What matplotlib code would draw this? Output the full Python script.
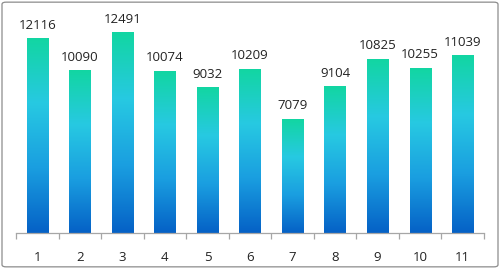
import matplotlib.pyplot as plt
import numpy as np
from matplotlib.colors import LinearSegmentedColormap
from matplotlib.patches import FancyBboxPatch

categories = ['1', '2', '3', '4', '5', '6', '7', '8', '9', '10', '11']
values = [12116, 10090, 12491, 10074, 9032, 10209, 7079, 9104, 10825, 10255, 11039]

plt.rcParams['font.family'] = ['Open Sans', 'DejaVu Sans']

# gradient bottom -> top: blue, cyan, green
cmap = LinearSegmentedColormap.from_list('bar', ['#0561c6', '#1a9ee0', '#27c9e2', '#12d6a2'])
grad = np.linspace(0, 1, 256).reshape(-1, 1)

fig = plt.figure(figsize=(5, 2.69), dpi=100)
ax = fig.add_axes([0.032, 0.134, 0.936, 0.836])

x = np.arange(len(values))
width = 0.5
for xi, v in zip(x, values):
    ax.imshow(grad, cmap=cmap, origin='lower', aspect='auto',
              extent=[xi - width / 2, xi + width / 2, 0, v], zorder=2)
    ax.text(xi, v + 420, f'{v}', ha='center', va='bottom', fontsize=9.5, color='#222222')

ax.set_xlim(-0.5, len(values) - 0.5)
ax.set_ylim(0, 14000)
for s in ['top', 'right', 'left']:
    ax.spines[s].set_visible(False)
ax.spines['bottom'].set_color('#a6a6a6')
ax.spines['bottom'].set_linewidth(0.9)
ax.set_yticks([])
ax.set_xticks(np.arange(-0.5, len(values)), minor=False)
ax.set_xticklabels([])
ax.tick_params(axis='x', which='major', length=4, color='#a6a6a6', width=0.9)
ax.set_xticks(x, minor=True)
ax.set_xticklabels(categories, minor=True, fontsize=9.5, color='#222222')
ax.tick_params(axis='x', which='minor', length=0, pad=13)

border = FancyBboxPatch((0.004, 0.008), 0.992, 0.984, boxstyle='round,pad=0,rounding_size=0.008',
                        transform=fig.transFigure, fill=False, edgecolor='#8c8c8c', linewidth=0.9)
fig.patches.append(border)

fig.savefig('out.png', dpi=100)
